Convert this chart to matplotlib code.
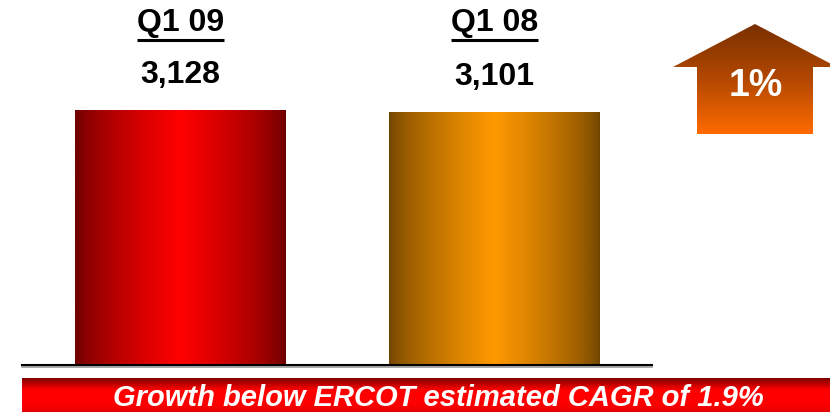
import matplotlib
matplotlib.use('Agg')
import matplotlib.pyplot as plt
import matplotlib.transforms as mtransforms
from matplotlib.colors import LinearSegmentedColormap
from matplotlib.patches import Polygon
import numpy as np

# data
quarters = ['Q1 09', 'Q1 08']
sales = [3128, 3101]
growth_label = '1%'
banner_text = 'Growth below ERCOT estimated CAGR of 1.9%'

# colours of the bar gradients (edge -> centre)
bar_edges = ['#6c0000', '#704400']
bar_centres = ['#ff0000', '#ff9900']

plt.rcParams['font.family'] = ['Liberation Sans', 'DejaVu Sans']

W, H = 830, 412
fig = plt.figure(figsize=(W / 100, H / 100), dpi=100)

# overlay axes working in pixel units (for the banner and the arrow)
bg = fig.add_axes([0, 0, 1, 1])
bg.set_xlim(0, W)
bg.set_ylim(H, 0)
bg.axis('off')

# bar axes: baseline at y=365 px, x from 22 to 652 px
ax = fig.add_axes([22 / W, (H - 365) / H, 630 / W, 365 / H])
ax.patch.set_alpha(0)
bars = ax.bar(range(len(sales)), sales, width=0.672, color='none', edgecolor='none')

xs = np.linspace(0, 1, 200)
prof = (1 - np.abs(2 * xs - 1)) ** 0.7
for i, b in enumerate(bars):
  cmap = LinearSegmentedColormap.from_list('g%d' % i, [bar_edges[i], bar_centres[i]])
  x0, y0 = b.get_xy()
  im = ax.imshow(prof[np.newaxis, :], extent=[x0, x0 + b.get_width(), y0, y0 + b.get_height()],
                 aspect='auto', cmap=cmap, vmin=0, vmax=1, zorder=2)
  im.set_clip_path(b)

ax.set_xlim(-0.505, 1.502)
ax.set_ylim(0, 3128 * 365 / 255.0)
for s in ['top', 'right', 'left']:
  ax.spines[s].set_visible(False)
ax.spines['bottom'].set_linewidth(1.5)
ax.spines['bottom'].set_color('black')
ax.set_xticks([])
ax.set_yticks([])
# little grey shadow under the baseline
bg.plot([22, 652], [367, 367], color='#9a9a9a', lw=1.2)

# value labels above bars
for i, v in enumerate(sales):
  ax.annotate('{:,}'.format(v), xy=(i, v), xytext=(0, 19.4), textcoords='offset points',
              ha='center', va='baseline', fontsize=23, fontweight='bold', color='black')

# quarter labels, underlined
blend = mtransforms.blended_transform_factory(ax.transData, bg.transData)
qtexts = []
for i, q in enumerate(quarters):
  t = ax.text(i, 31, q, transform=blend, ha='center', va='baseline',
              fontsize=23, fontweight='bold', color='black')
  qtexts.append(t)

fig.canvas.draw()
r = fig.canvas.get_renderer()
for t in qtexts:
  bb = t.get_window_extent(r)
  xa = bg.transData.inverted().transform([[bb.x0, 0], [bb.x1, 0]])
  bg.plot([xa[0][0], xa[1][0]], [39.5, 39.5], color='black', lw=2.2, solid_capstyle='butt')

# growth arrow
arrow_pts = [(755, 24), (837, 67), (813, 67), (813, 134), (697, 134), (697, 67), (673, 67)]
arrow = Polygon(arrow_pts, closed=True, facecolor='none', edgecolor='none')
bg.add_patch(arrow)
acmap = LinearSegmentedColormap.from_list('arr', ['#7a3000', '#b24800', '#ff6a00'])
ys = np.linspace(0, 1, 200)[:, np.newaxis]
aim = bg.imshow(ys, extent=[673, 837, 134, 24], aspect='auto', cmap=acmap, vmin=0, vmax=1, zorder=2)
aim.set_clip_path(arrow)
bg.text(756, 96, growth_label, ha='center', va='baseline', fontsize=27,
        fontweight='bold', color='white', zorder=3)

# red banner at the bottom
bcmap = LinearSegmentedColormap.from_list('ban', [(0, '#7e0000'), (0.35, '#ff0000'),
                                                  (0.75, '#ff0000'), (1, '#e80000')])
bg.imshow(ys, extent=[22, W, H, 378], aspect='auto', cmap=bcmap, vmin=0, vmax=1, zorder=1)
bg.text(438, 406, banner_text, ha='center', va='baseline', fontsize=21,
        fontweight='bold', fontstyle='italic', color='white', zorder=3)

bg.set_xlim(0, W)
bg.set_ylim(H, 0)

fig.savefig('out.png', dpi=100)
